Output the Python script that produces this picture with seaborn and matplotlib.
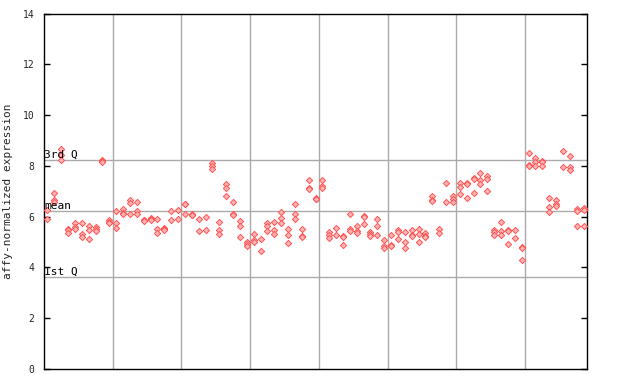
import matplotlib
matplotlib.use("Agg")
import matplotlib.pyplot as plt
import seaborn as sns
import pandas as pd

# expression values per sample column, grouped by the 8 grid sections
sec1 = [[6.28, 5.91], [6.95, 6.67, 6.58], [8.65, 8.42, 8.22], [5.51, 5.49, 5.34],
        [5.75, 5.59, 5.53], [5.73, 5.31, 5.18], [5.62, 5.47, 5.10], [5.59, 5.52, 5.44],
        [8.22, 8.18, 8.14], [5.86, 5.80, 5.73]]
sec2 = [[6.21, 5.73, 5.57], [6.32, 6.15, 6.12], [6.65, 6.54, 6.12], [6.59, 6.23, 6.09],
        [5.88, 5.86, 5.84], [5.95, 5.90, 5.86], [5.89, 5.53, 5.36], [5.57, 5.50, 5.47],
        [6.23, 5.86], [6.28, 5.89]]
sec3 = [[6.51, 6.48, 6.12], [6.11, 6.07, 6.05], [5.91, 5.44], [6.00, 5.49],
        [8.11, 8.01, 7.88], [5.78, 5.47, 5.31], [7.30, 7.14, 6.83], [6.57, 6.11, 6.07],
        [5.83, 5.65, 5.20], [5.01, 4.94, 4.84]]
sec4 = [[5.30, 5.07, 4.99], [5.10, 4.63], [5.75, 5.62, 5.44], [5.78, 5.49, 5.30],
        [6.20, 5.96, 5.73], [5.53, 5.26, 4.97], [6.51, 6.09, 5.91], [5.53, 5.22, 5.18],
        [7.46, 7.11, 7.08], [6.72, 6.70, 6.68]]
sec5 = [[7.46, 7.20, 7.11], [5.40, 5.27, 5.14], [5.57, 5.26], [5.22, 5.18, 4.90],
        [6.12, 5.53, 5.44], [5.62, 5.44, 5.34], [6.01, 5.97, 5.70], [5.40, 5.31, 5.23],
        [5.92, 5.65, 5.26], [5.07, 4.86, 4.78]]
sec6 = [[5.26, 4.89, 4.85], [5.49, 5.40, 5.10], [5.41, 5.02, 4.78], [5.49, 5.29, 5.25],
        [5.53, 5.32, 4.99], [5.34, 5.22, 5.18], [6.83, 6.67, 6.63], [5.53, 5.36],
        [7.34, 6.59], [6.83, 6.70, 6.59]]
sec7 = [[7.34, 7.16, 6.91], [7.32, 7.28, 6.75], [7.54, 7.50, 6.95], [7.70, 7.46, 7.30],
        [7.59, 7.50, 7.01], [5.49, 5.39, 5.26], [5.78, 5.44, 5.26], [5.49, 5.45, 4.94],
        [5.49, 5.14], [4.79, 4.75, 4.31]]
sec8 = [[8.52, 8.05, 8.01], [8.29, 8.14, 8.01], [8.21, 8.17, 8.01], [6.75, 6.38, 6.17],
        [6.67, 6.49, 6.41], [8.57, 7.97], [8.40, 7.97, 7.83], [6.32, 6.23, 5.62],
        [6.36, 6.25, 5.65]]

q3_value = 8.22
mean_value = 6.22
q1_value = 3.62
y_ticks = [0, 2, 4, 6, 8, 10, 12, 14]

columns = sec1 + sec2 + sec3 + sec4 + sec5 + sec6 + sec7 + sec8
rows = [(i, v) for i, col in enumerate(columns) for v in col]
df = pd.DataFrame(rows, columns=["sample", "expression"])

sns.set_style("white")
plt.rcParams["font.family"] = ["DejaVu Sans Mono", "DejaVu Sans"]

fig = plt.figure(figsize=(6.4, 3.84), dpi=100)
ax = fig.add_axes([44 / 640, 15 / 384, 543 / 640, 355.5 / 384])

grid_c = "#aaaaaa"
for gx in [9.5, 19.5, 29.5, 39.5, 49.5, 59.5, 69.5]:
    ax.axvline(gx, color=grid_c, lw=1.0, zorder=1)
for qy in [q3_value, mean_value, q1_value]:
    ax.axhline(qy, color=grid_c, lw=1.0, zorder=1)

sns.scatterplot(data=df, x="sample", y="expression", marker="D", s=10,
                facecolor="#ffb4b4", edgecolor="#ff5555", linewidth=0.7,
                ax=ax, zorder=3, legend=False)

ax.set_xlim(-0.5, 78.5)
ax.set_ylim(0, 14)
ax.set_yticks(y_ticks)
ax.set_yticklabels([str(t) for t in y_ticks], fontsize=7)
ax.set_xticks([])
ax.tick_params(axis="y", direction="in", length=4, width=1, color="black",
               right=True, left=True, labelright=False, pad=7)
ax.set_xlabel("")
ax.set_ylabel("affy-normalized expression", fontsize=8, labelpad=7)
for sp in ax.spines.values():
    sp.set_visible(True)
    sp.set_color("black")
    sp.set_linewidth(1.0)

for qy, lab in [(q3_value, "3rd Q"), (mean_value, "mean"), (q1_value, "1st Q")]:
    ax.text(-0.45, qy + 0.02, lab, fontsize=8, ha="left", va="bottom", color="black", zorder=4)

fig.savefig("out.png", dpi=100)
